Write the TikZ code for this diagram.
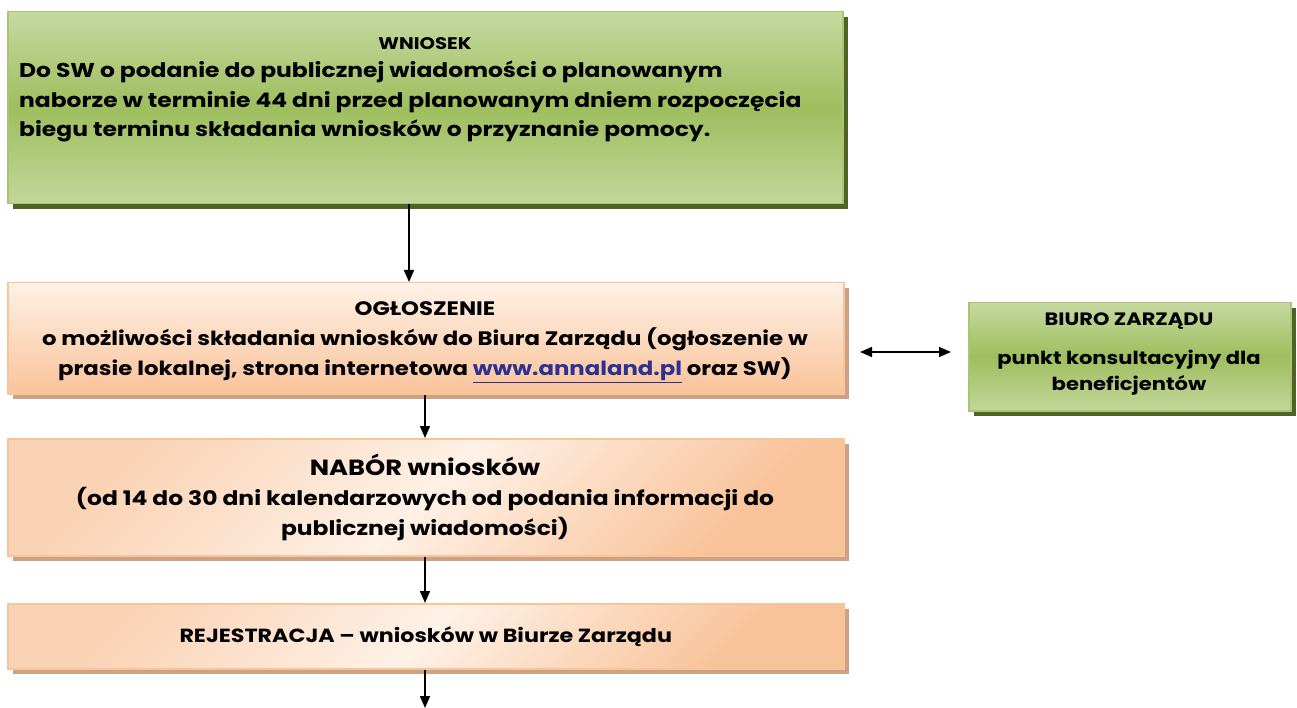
\documentclass[tikz,border=0pt]{standalone}
\usepackage{fontspec}
\setmainfont{Poppins}[FakeStretch=1.17]
\usetikzlibrary{arrows.meta,shadows}
\definecolor{gtop}{HTML}{C6D9A1}
\definecolor{gmid}{HTML}{9EBE5E}
\definecolor{gbot}{HTML}{C3D69B}
\definecolor{gborder}{HTML}{A9C572}
\definecolor{gshad}{HTML}{4F6228}
\definecolor{olight}{HTML}{FEF1E6}
\definecolor{odark}{HTML}{F9C39A}
\definecolor{omed}{HTML}{FAD3B5}
\definecolor{oborder}{HTML}{F8C49A}
\definecolor{oshad}{HTML}{CDA184}
\definecolor{linkc}{HTML}{2E3192}
\begin{document}
\begin{tikzpicture}[x=1pt,y=-1pt,
  boxbase/.style={rectangle, draw, line width=1.5pt, inner sep=0pt, anchor=north west, align=center},
  gbox/.style={boxbase, draw=gborder, top color=gtop, bottom color=gbot, middle color=gmid,
    general shadow={fill=gshad, shadow xshift=5pt, shadow yshift=-5pt}},
  obox/.style={boxbase, draw=oborder,
    general shadow={fill=oshad, shadow xshift=5pt, shadow yshift=-5pt}},
  odiag/.style={obox, left color=omed, right color=odark, middle color=olight, shading angle=45},
  txt/.style={font=\bfseries\fontsize{19.5}{30}\selectfont, align=center},
  arr/.style={line width=1.5pt, -{Triangle[length=12pt,width=10pt]}},
  darr/.style={line width=1.5pt, {Triangle[length=12pt,width=10pt]}-{Triangle[length=12pt,width=10pt]}}
]
\useasboundingbox (0,0) rectangle (1297,708);

% WNIOSEK
\node[gbox, minimum width=835pt, minimum height=192pt] (wn) at (7,11) {};
\node[font=\bfseries\fontsize{16.8}{20}\selectfont] (wnt) at (425,44) {WNIOSEK};
\node[anchor=north west, align=left, inner sep=0pt, font=\bfseries\fontsize{20}{29.5}\selectfont] (wnb) at (19,61)
  {Do SW o podanie do publicznej wiadomości o planowanym\\
   naborze w terminie 44 dni przed planowanym dniem rozpoczęcia\\
   biegu terminu składania wniosków o przyznanie pomocy.};

% OGLOSZENIE
\node[obox, top color=olight, bottom color=odark, minimum width=836pt, minimum height=111pt] (og) at (7,282) {};
\node[txt] (ogt) at (425,342)
  {OGŁOSZENIE\\
   o możliwości składania wniosków do Biura Zarządu (ogłoszenie w\\
   prasie lokalnej, strona internetowa {\color{linkc}\underline{www.annaland.pl}} oraz SW)};

% BIURO
\node[gbox, minimum width=322pt, minimum height=108pt] (bz) at (968,302) {};
\node[font=\bfseries\fontsize{17.9}{20}\selectfont] (bzt) at (1129,321) {BIURO ZARZĄDU};
\node[txt, font=\bfseries\fontsize{18}{26}\selectfont] (bzb) at (1129,373)
  {punkt konsultacyjny dla\\beneficjentów};

% NABOR
\node[odiag, minimum width=836pt, minimum height=117pt] (nb) at (7,438) {};
\node[txt, font=\bfseries\fontsize{20}{30}\selectfont] (nbt) at (425,497)
  {{\fontsize{22}{30}\selectfont NABÓR wniosków}\\
   (od 14 do 30 dni kalendarzowych od podania informacji do\\
   publicznej wiadomości)};

% REJESTRACJA
\node[odiag, minimum width=836pt, minimum height=65pt, font=\bfseries\fontsize{19}{22}\selectfont] (rj) at (7,603)
  {REJESTRACJA – wniosków w Biurze Zarządu};

\coordinate (endp) at (425,708);
\coordinate (da1) at (860,352);
\coordinate (da2) at (951,352);

\draw[arr] (wn.south -| 409,0) -- (og.north -| 409,0);
\draw[arr] (og.south -| 425,0) -- (nb.north -| 425,0);
\draw[arr] (nb.south -| 425,0) -- (rj.north -| 425,0);
\draw[arr] (rj.south -| 425,0) -- (endp);
\draw[darr] (da1) -- (da2);
\end{tikzpicture}
\end{document}
